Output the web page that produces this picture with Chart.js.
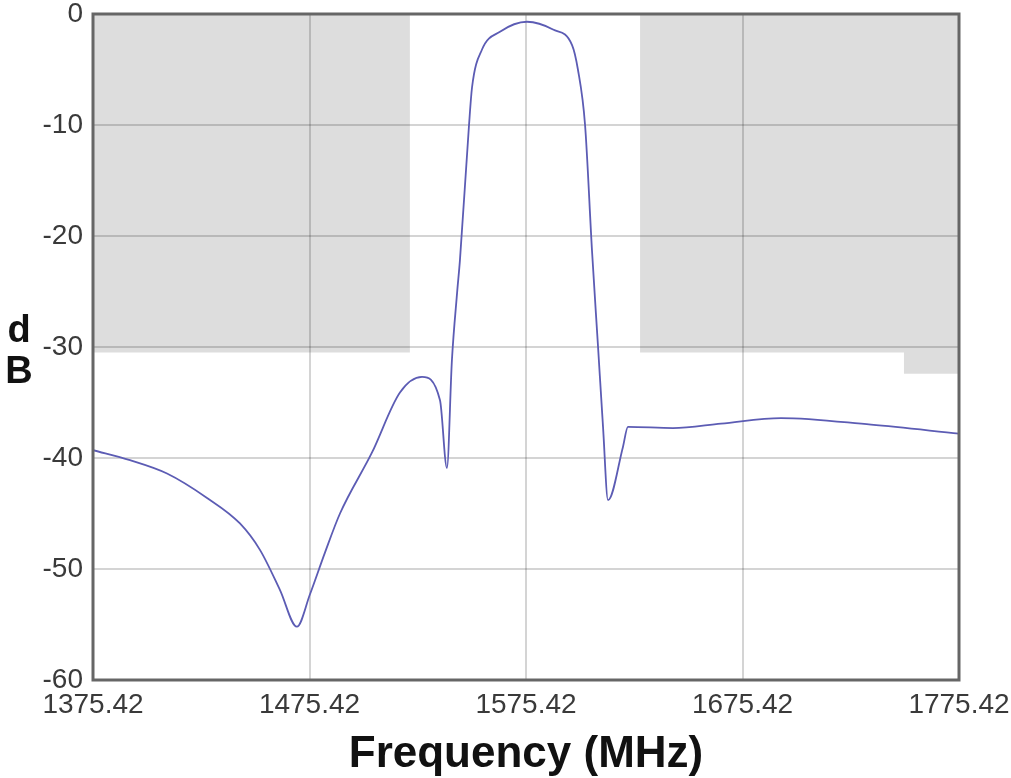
<!DOCTYPE html>
<html>
<head>
<meta charset="utf-8">
<script src="https://cdn.jsdelivr.net/npm/chart.js@4.4.1/dist/chart.umd.min.js"></script>
<style>
    body { margin: 0; background: #fff; }
    #contenedor { position: relative; width: 1011px; height: 778px; }
    #tituloY {
        position: absolute; left: 0; top: 309px; width: 38px;
        font: bold 38px "Liberation Sans", Arial, sans-serif;
        line-height: 41px; text-align: center; color: #111;
    }
</style>
</head>
<body>
<div id="contenedor">
    <canvas id="miGrafico"></canvas>
    <div id="tituloY">d<br>B</div>
</div>
<script>
// Respuesta del filtro
const frecuencias = [1375.42, 1392.5, 1409.6, 1428.1, 1443.3, 1452.6, 1461.8, 1469.6, 1475.6, 1482.6,
    1489.5, 1504.3, 1517.2, 1527.4, 1535.7, 1538.9, 1541.2, 1543.6, 1544.9, 1549.1,
    1550.5, 1555.1, 1563.4, 1575.9, 1587.9, 1596.7, 1599.4, 1602.7, 1605.9, 1608.7,
    1611.0, 1613.3, 1620.2, 1622.5, 1643.3, 1665.5, 1693.2, 1734.8, 1775.42];
const valoresDb = [-39.3, -40.2, -41.4, -43.6, -45.9, -48.3, -51.9, -55.2, -52.3, -48.5,
    -45.0, -39.5, -34.1, -32.7, -34.8, -40.9, -31.2, -25.1, -22.2, -10.0,
    -6.6, -3.2, -1.6, -0.7, -1.4, -2.8, -5.0, -10.0, -21.3, -30.0,
    -37.2, -43.8, -39.0, -37.2, -37.3, -36.9, -36.4, -37.0, -37.8];

// Máscaras (zonas grises)
const mascaraIzqFrec = [1375.42, 1521.8];
const mascaraIzqDb = [-30.5, -30.5];
const mascaraDerFrec = [1628.1, 1750, 1750, 1775.42];
const mascaraDerDb = [-30.5, -30.5, -32.4, -32.4];

// Marcas de los ejes
const ticksX = [1375.42, 1475.42, 1575.42, 1675.42, 1775.42];
const ticksY = [0, -10, -20, -30, -40, -50, -60];

function aPuntos(xs, ys) {
    return xs.map((x, i) => ({ x: x, y: ys[i] }));
}

// Borde del área de dibujo
const bordePlugin = {
    id: 'borde',
    afterDraw(chart) {
        const { ctx, chartArea } = chart;
        ctx.save();
        ctx.strokeStyle = '#666';
        ctx.lineWidth = 3;
        ctx.strokeRect(chartArea.left, chartArea.top, chartArea.right - chartArea.left, chartArea.bottom - chartArea.top);
        ctx.restore();
    }
};

const fuenteTicks = { family: '"Liberation Sans", Arial, sans-serif', size: 28 };

const ctx = document.getElementById('miGrafico').getContext('2d');
new Chart(ctx, {
    type: 'line',
    data: {
        datasets: [{
            data: aPuntos(frecuencias, valoresDb),
            borderColor: '#5c5cb4',
            borderWidth: 1.8,
            pointRadius: 0,
            cubicInterpolationMode: 'monotone',
            fill: false
        }, {
            data: aPuntos(mascaraIzqFrec, mascaraIzqDb),
            borderWidth: 0,
            pointRadius: 0,
            backgroundColor: 'rgba(0,0,0,0.135)',
            fill: 'end'
        }, {
            data: aPuntos(mascaraDerFrec, mascaraDerDb),
            borderWidth: 0,
            pointRadius: 0,
            backgroundColor: 'rgba(0,0,0,0.135)',
            fill: 'end'
        }]
    },
    options: {
        responsive: true,
        maintainAspectRatio: false,
        animation: false,
        layout: { padding: { left: 0, right: 52, top: 14, bottom: 0 } },
        plugins: { legend: { display: false }, tooltip: { enabled: false } },
        scales: {
            x: {
                type: 'linear',
                min: 1375.42,
                max: 1775.42,
                afterBuildTicks: (scale) => { scale.ticks = ticksX.map(v => ({ value: v })); },
                afterFit: (scale) => {
                    scale.height = 98;
                    scale.paddingLeft = 0;
                    scale.paddingRight = 0;
                },
                ticks: {
                    font: fuenteTicks,
                    color: '#3a3a3a',
                    padding: 8,
                    maxRotation: 0,
                    callback: (v) => v.toFixed(2)
                },
                grid: { color: 'rgba(0,0,0,0.17)', lineWidth: 2, drawTicks: false },
                border: { display: false },
                title: {
                    display: true,
                    text: 'Frequency (MHz)',
                    color: '#111',
                    font: { family: '"Liberation Sans", Arial, sans-serif', size: 44, weight: 'bold', lineHeight: 1.05 },
                    padding: { top: 0, bottom: 0 }
                }
            },
            y: {
                min: -60,
                max: 0,
                afterBuildTicks: (scale) => { scale.ticks = ticksY.map(v => ({ value: v })); },
                afterFit: (scale) => {
                    scale.width = 93;
                    scale.paddingTop = 0;
                    scale.paddingBottom = 0;
                },
                ticks: { font: fuenteTicks, color: '#3a3a3a', padding: 10 },
                grid: { color: 'rgba(0,0,0,0.17)', lineWidth: 2, drawTicks: false },
                border: { display: false }
            }
        }
    },
    plugins: [bordePlugin]
});
</script>
</body>
</html>
